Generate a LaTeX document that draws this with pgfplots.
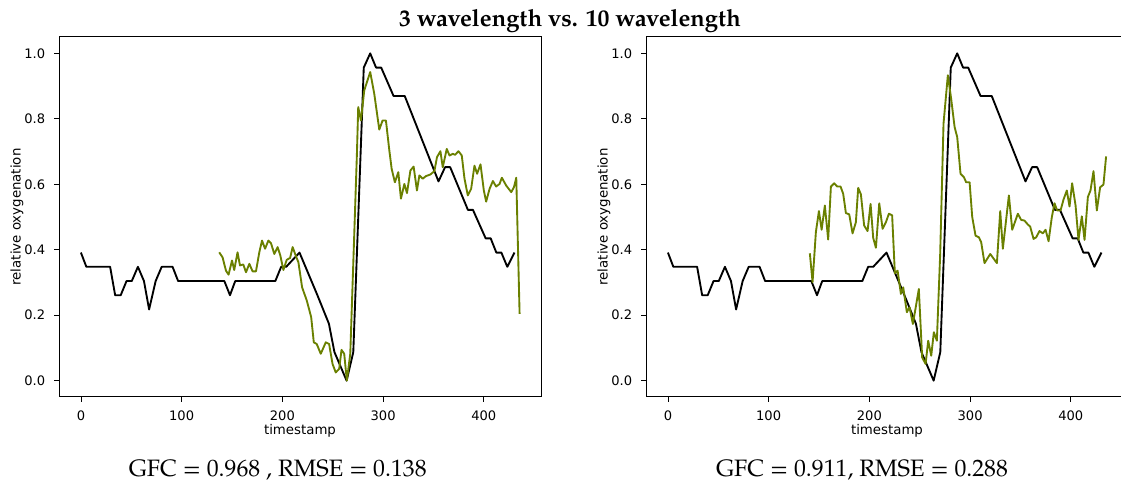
\documentclass[border=0pt]{standalone}
\usepackage{fontspec}
\setmainfont{DejaVu Sans}
\newfontfamily\pal{TeX Gyre Pagella}
\usepackage{pgfplots}
\pgfplotsset{compat=1.18}
\usepackage{pgfplotstable}
\definecolor{olivegreen}{RGB}{106,128,0}

% reference curve, same in both panels (values are k/23)
\pgfplotstableread{
t y
0 0.3913
5.4 0.3478
29.0 0.3478
34.0 0.2609
39.5 0.2609
45.3 0.3043
50.5 0.3043
56.6 0.3478
62.6 0.3043
67.7 0.2174
74.2 0.3043
80.2 0.3478
91.0 0.3478
96.5 0.3043
142.4 0.3043
148.0 0.2609
153.2 0.3043
193.0 0.3043
198.8 0.3478
203.8 0.3478
217.0 0.3913
234.8 0.2609
246.2 0.1739
251.7 0.0870
263.8 0.0
270.4 0.0870
280.8 0.9565
287.2 1.0
293.0 0.9565
298.1 0.9565
310.4 0.8696
321.5 0.8696
355.0 0.6087
361.5 0.6522
366.6 0.6522
384.2 0.5217
389.2 0.5217
401.8 0.4348
406.8 0.4348
412.4 0.3913
417.4 0.3913
423.3 0.3478
430.4 0.3913
}\reftable

\pgfplotsset{
  panel/.style={
    scale only axis, width=361.5pt, height=270pt, anchor=south west,
    xmin=-21.75, xmax=456.75, ymin=-0.05, ymax=1.05,
    xtick={0,100,200,300,400}, ytick={0,0.2,0.4,0.6,0.8,1.0},
    scaled ticks=false,
    tick align=outside, tick pos=left, major tick length=3.4pt,
    every tick/.style={black, line width=0.6pt},
    axis line style={line width=0.75pt},
    tick label style={font=\fontsize{9.8}{11}\selectfont},
    label style={font=\fontsize{9.8}{11}\selectfont},
    /pgf/number format/assume math mode=true,
    yticklabel style={/pgf/number format/fixed, /pgf/number format/fixed zerofill,
      /pgf/number format/precision=1, anchor=east, inner sep=0pt, xshift=-6.8pt},
    xticklabel style={anchor=north, inner sep=0pt, yshift=-6.8pt},
    xlabel={timestamp}, ylabel={relative oxygenation},
    every axis x label/.style={at={(rel axis cs:0.5,0)}, anchor=center, yshift=-25.5pt},
    every axis y label/.style={at={(rel axis cs:0,0.5)}, xshift=-31.5pt, rotate=90, anchor=center},
  },
  curve/.style={line width=1.4pt, line join=round},
}

\begin{document}
\begin{tikzpicture}
\useasboundingbox (0,0) rectangle (840.75pt,360.75pt);

% 3 wavelength
\begin{axis}[panel, at={(44.25pt,63pt)}]
\addplot[black, curve] table[x=t, y=y] {\reftable};
\addplot[olivegreen, curve] coordinates {
(137.3,0.392) (140.6,0.377) (144.0,0.336) (146.6,0.324) (150.0,0.367)
(152.2,0.338) (155.5,0.392) (157.9,0.352) (161.2,0.355) (163.9,0.331)
(167.2,0.357) (170.4,0.334) (173.8,0.334) (177.1,0.392) (179.8,0.428)
(182.8,0.403) (186.1,0.428) (188.7,0.420) (192.0,0.387) (195.3,0.408)
(198.0,0.382) (201.0,0.338) (204.3,0.369) (207.7,0.375) (210.2,0.408)
(213.6,0.379) (215.9,0.362) (219.6,0.285) (224.2,0.245) (228.6,0.194)
(231.2,0.117) (234.1,0.112) (238.1,0.082) (243.1,0.117) (246.4,0.112)
(249.8,0.051) (253.0,0.025) (256.4,0.036) (258.7,0.094) (261.4,0.082)
(264.0,0.000) (267.4,0.082) (270.6,0.377) (274.0,0.693) (275.3,0.836)
(278.0,0.795) (281.3,0.887) (287.2,0.943) (291.2,0.877) (296.2,0.767)
(299.5,0.795) (302.8,0.795) (306.2,0.703) (308.5,0.647) (311.7,0.606)
(315.1,0.637) (317.7,0.556) (321.1,0.601) (323.7,0.573) (327.1,0.642)
(330.3,0.654) (333.6,0.581) (336.0,0.627) (339.3,0.617) (342.6,0.625)
(347.0,0.630) (350.9,0.640) (353.5,0.683) (356.9,0.701) (359.2,0.652)
(363.2,0.708) (365.9,0.688) (369.2,0.693) (371.5,0.690) (374.8,0.701)
(378.1,0.688) (380.8,0.617) (384.1,0.566) (387.4,0.586) (390.7,0.657)
(393.3,0.632) (396.7,0.661) (400.0,0.581) (402.3,0.547) (405.7,0.586)
(409.0,0.610) (412.2,0.593) (415.6,0.601) (417.9,0.620) (422.2,0.596)
(427.2,0.576) (429.9,0.591) (432.2,0.620) (435.5,0.204)
};
\end{axis}

% 10 wavelength
\begin{axis}[panel, at={(484.5pt,63pt)}]
\addplot[black, curve] table[x=t, y=y] {\reftable};
\addplot[olivegreen, curve] coordinates {
(140.9,0.389) (143.6,0.301) (146.9,0.454) (149.9,0.518) (152.6,0.461)
(155.8,0.535) (159.1,0.431) (161.8,0.593) (165.1,0.603) (168.1,0.593)
(171.4,0.593) (174.0,0.571) (176.7,0.512) (180.0,0.508) (183.3,0.450)
(186.6,0.484) (188.9,0.589) (191.6,0.569) (194.8,0.474) (198.2,0.457)
(201.2,0.540) (203.8,0.436) (206.5,0.406) (209.8,0.542) (213.1,0.464)
(216.4,0.484) (219.4,0.510) (222.6,0.505) (225.3,0.328) (228.0,0.336)
(231.3,0.265) (233.6,0.285) (237.2,0.209) (239.9,0.224) (243.2,0.173)
(249.1,0.280) (252.4,0.071) (255.8,0.051) (258.4,0.122) (261.4,0.076)
(264.0,0.148) (267.0,0.122) (270.3,0.387) (273.6,0.785) (277.9,0.933)
(281.2,0.861) (284.6,0.775) (287.2,0.744) (290.5,0.632) (293.8,0.622)
(296.1,0.606) (299.5,0.606) (302.1,0.500) (305.4,0.443) (308.7,0.438)
(311.0,0.423) (314.3,0.359) (320.0,0.387) (326.6,0.359) (329.9,0.518)
(332.5,0.403) (338.5,0.566) (341.8,0.461) (347.4,0.510) (350.7,0.491)
(354.0,0.489) (357.3,0.477) (359.6,0.471) (363.0,0.433) (365.6,0.438)
(368.9,0.457) (372.2,0.450) (374.9,0.461) (377.9,0.426) (381.1,0.499)
(383.8,0.542) (386.4,0.520) (389.8,0.520) (392.7,0.553) (396.0,0.581)
(398.7,0.532) (401.3,0.603) (404.7,0.535) (407.6,0.430) (410.9,0.502)
(413.6,0.430) (416.9,0.561) (419.5,0.581) (422.5,0.640) (425.8,0.520)
(429.1,0.591) (432.4,0.599) (435.0,0.685)
};
\end{axis}

\node[font=\pal\bfseries\fontsize{17.8}{20}\selectfont, anchor=base] at (427.5pt,340.5pt)
  {3 wavelength vs. 10 wavelength};
\node[font=\pal\fontsize{17.8}{20}\selectfont, anchor=base] at (208.3pt,3.5pt)
  {GFC = 0.968 , RMSE = 0.138};
\node[font=\pal\fontsize{17.8}{20}\selectfont, anchor=base] at (646.5pt,3.5pt)
  {GFC = 0.911, RMSE = 0.288};
\end{tikzpicture}
\end{document}
